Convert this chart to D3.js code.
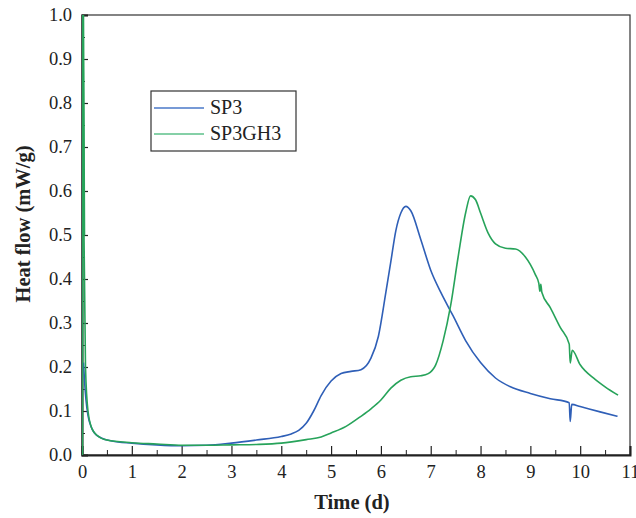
<!DOCTYPE html>
<html>
<head>
<meta charset="utf-8">
<script src="https://cdn.jsdelivr.net/npm/d3@7"></script>
<style>
  body { margin: 0; background: #fff; }
  svg { display: block; }
  text { font-family: "Liberation Serif", "Times New Roman", serif; fill: #222; }
</style>
</head>
<body>
<div id="chart"></div>
<script>
// series values: [time (d), heat flow (mW/g)]
var sp3 = [
  [0.03, 0.21], [0.05, 0.17], [0.08, 0.125], [0.12, 0.09], [0.18, 0.065], [0.25, 0.05],
  [0.4, 0.038], [0.6, 0.032], [1.0, 0.027], [1.5, 0.023], [2.0, 0.021], [2.5, 0.022],
  [3.0, 0.027], [3.5, 0.034], [4.0, 0.042], [4.2, 0.048], [4.35, 0.056], [4.5, 0.072],
  [4.65, 0.1], [4.8, 0.135], [5.0, 0.168], [5.2, 0.185], [5.4, 0.19], [5.6, 0.194],
  [5.8, 0.22], [5.95, 0.27], [6.1, 0.37], [6.2, 0.44], [6.3, 0.51], [6.4, 0.55],
  [6.5, 0.565], [6.6, 0.555], [6.8, 0.49], [7.0, 0.42], [7.2, 0.37], [7.45, 0.316],
  [7.7, 0.26], [8.0, 0.21], [8.3, 0.175], [8.6, 0.155], [9.0, 0.14], [9.4, 0.128],
  [9.78, 0.119], [9.8, 0.076], [9.83, 0.115], [10.0, 0.11], [10.4, 0.098], [10.75, 0.088]
];

var sp3gh3 = [
  [0.0, 0.0], [0.015, 1.1], [0.04, 0.5], [0.07, 0.2], [0.12, 0.1], [0.2, 0.06],
  [0.3, 0.045], [0.5, 0.034], [1.0, 0.028], [1.5, 0.025], [2.0, 0.022], [2.5, 0.022],
  [3.0, 0.023], [3.5, 0.024], [4.0, 0.027], [4.5, 0.035], [4.8, 0.041], [5.0, 0.05],
  [5.3, 0.065], [5.6, 0.088], [5.8, 0.105], [6.0, 0.125], [6.2, 0.152], [6.4, 0.17],
  [6.6, 0.178], [6.8, 0.18], [6.95, 0.185], [7.1, 0.205], [7.25, 0.26], [7.4, 0.34],
  [7.55, 0.45], [7.7, 0.55], [7.8, 0.589], [7.9, 0.58], [8.0, 0.55], [8.15, 0.505],
  [8.3, 0.48], [8.5, 0.47], [8.7, 0.468], [8.9, 0.45], [9.1, 0.41], [9.17, 0.39],
  [9.19, 0.372], [9.21, 0.388], [9.23, 0.37], [9.4, 0.335], [9.6, 0.29], [9.78, 0.252],
  [9.8, 0.209], [9.84, 0.238], [10.0, 0.205], [10.3, 0.172], [10.5, 0.155], [10.76, 0.136]
];

var seriesNames = ['SP3', 'SP3GH3'];
var seriesColors = ['#2f5fb7', '#27a35a'];
var xTicks = [0, 1, 2, 3, 4, 5, 6, 7, 8, 9, 10, 11];
var yTicks = [0, 0.1, 0.2, 0.3, 0.4, 0.5, 0.6, 0.7, 0.8, 0.9, 1.0];

var serif = '"Liberation Serif", "Times New Roman", serif';
var width = 636, height = 518;
var margin = { left: 82, right: 6, top: 15, bottom: 63 };
var plotW = width - margin.left - margin.right;
var plotH = height - margin.top - margin.bottom;

var svg = d3.select('#chart').append('svg')
  .attr('width', width)
  .attr('height', height);

var x = d3.scaleLinear().domain([0, 11]).range([0, plotW]);
var y = d3.scaleLinear().domain([0, 1]).range([plotH, 0]);

var g = svg.append('g')
  .attr('transform', 'translate(' + margin.left + ',' + margin.top + ')');

g.append('clipPath').attr('id', 'clip')
  .append('rect').attr('width', plotW).attr('height', plotH);

// frame top/right
g.append('rect')
  .attr('width', plotW).attr('height', plotH)
  .attr('fill', 'none').attr('stroke', '#333').attr('stroke-width', 1.2);

// minor ticks
g.append('g')
  .attr('transform', 'translate(0,' + plotH + ')')
  .call(d3.axisBottom(x).tickValues(d3.range(0.5, 11, 1)).tickSize(-5).tickFormat(''))
  .call(s => s.select('.domain').remove());
g.append('g')
  .call(d3.axisLeft(y).tickValues(d3.range(0.05, 1, 0.1)).tickSize(-3).tickFormat(''))
  .call(s => s.select('.domain').remove());

// major axes
var xAxis = g.append('g')
  .attr('transform', 'translate(0,' + plotH + ')')
  .call(d3.axisBottom(x).tickValues(xTicks).tickSize(-9).tickPadding(10).tickFormat(d3.format('d')));
var yAxis = g.append('g')
  .call(d3.axisLeft(y).tickValues(yTicks).tickSize(-6).tickPadding(10).tickFormat(d3.format('.1f')));

[xAxis, yAxis].forEach(function (a) {
  a.attr('font-family', serif).attr('font-size', 18);
  a.select('.domain').attr('stroke', '#222').attr('stroke-width', 2);
  a.selectAll('.tick line').attr('stroke', '#222').attr('stroke-width', 1.2);
  a.selectAll('.tick text')
    .style('font-family', serif)
    .style('font-size', '18.5px').attr('fill', '#222');
});
g.selectAll('.tick line').attr('stroke', '#222');

// lines
var line = d3.line()
  .x(d => x(d[0]))
  .y(d => y(d[1]))
  .curve(d3.curveMonotoneX);

var lines = g.append('g').attr('clip-path', 'url(#clip)');
[sp3, sp3gh3].forEach(function (data, i) {
  lines.append('path')
    .datum(data)
    .attr('fill', 'none')
    .attr('stroke', seriesColors[i])
    .attr('stroke-width', 1.6)
    .attr('d', line);
});
// green start drawn over the y axis like in the reference
lines.append('path')
  .datum(sp3gh3.slice(0, 3))
  .attr('fill', 'none')
  .attr('stroke', seriesColors[1])
  .attr('stroke-width', 2.6)
  .attr('d', line);

// legend
var legend = svg.append('g').attr('transform', 'translate(151,91)');
legend.append('rect')
  .attr('width', 145).attr('height', 60)
  .attr('fill', '#fff').attr('stroke', '#333').attr('stroke-width', 1.2);
seriesNames.forEach(function (name, i) {
  var ly = 17 + i * 26;
  legend.append('line')
    .attr('x1', 3).attr('x2', 53).attr('y1', ly).attr('y2', ly)
    .attr('stroke', i === 0 ? '#4a78c8' : '#5cc08a').attr('stroke-width', 1.5);
  legend.append('text')
    .attr('x', 59).attr('y', ly + 6)
    .style('font-family', serif)
    .style('font-size', '20px')
    .text(name);
});

// axis titles
svg.append('text')
  .attr('x', margin.left + x(5.5) - 4).attr('y', 509)
  .attr('text-anchor', 'middle')
  .style('font-family', serif)
  .style('font-size', '20.5px').style('font-weight', 'bold')
  .text('Time (d)');

svg.append('text')
  .attr('transform', 'translate(30,224) rotate(-90)')
  .attr('text-anchor', 'middle')
  .style('font-family', serif)
  .style('font-size', '20.5px').style('font-weight', 'bold')
  .text('Heat flow (mW/g)');
</script>
</body>
</html>
